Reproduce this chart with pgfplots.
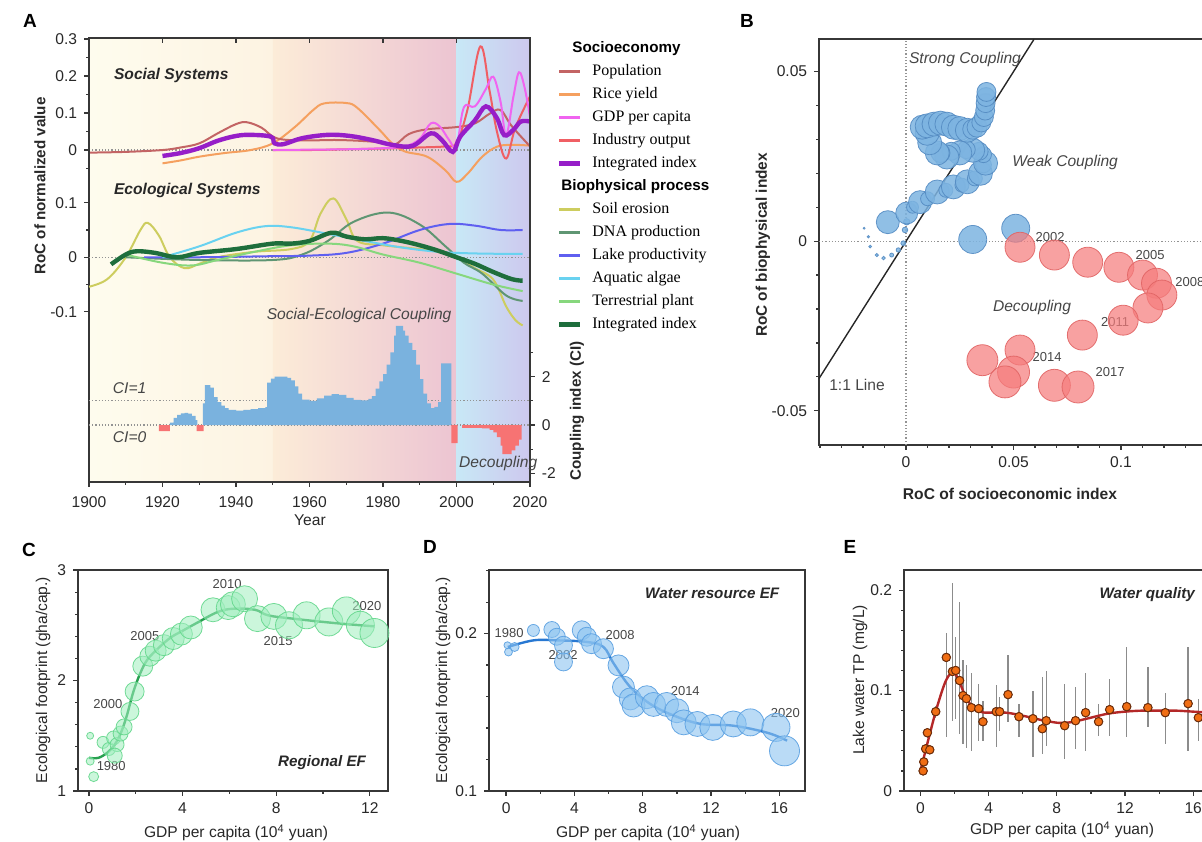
\documentclass[border=0pt]{standalone}
\usepackage{pgfplots}
\usepackage{pgfplotstable}
\pgfplotsset{compat=1.18}
\usepackage{fontspec}
\setmainfont{Liberation Sans}
\newfontfamily\legfont{Liberation Serif}
\newfontfamily\hdfont{Liberation Sans}
\definecolor{axc}{RGB}{55,55,55}
\definecolor{txt}{RGB}{40,40,40}
\definecolor{ann}{RGB}{70,70,70}
\definecolor{pop}{RGB}{195,100,100}
\definecolor{rice}{RGB}{245,160,95}
\definecolor{gdp}{RGB}{240,100,240}
\definecolor{ind}{RGB}{240,95,100}
\definecolor{soc}{RGB}{150,30,200}
\definecolor{soil}{RGB}{205,205,95}
\definecolor{dna}{RGB}{95,150,115}
\definecolor{lake}{RGB}{95,95,240}
\definecolor{alg}{RGB}{105,210,240}
\definecolor{ter}{RGB}{135,215,125}
\definecolor{eco}{RGB}{30,110,60}
\definecolor{cib}{RGB}{122,178,222}
\definecolor{cir}{RGB}{247,115,115}
\definecolor{bgA}{RGB}{254,252,238}
\definecolor{bgB}{RGB}{253,243,226}
\definecolor{bgC}{RGB}{252,236,216}
\definecolor{bgD}{RGB}{249,216,206}
\definecolor{bgE}{RGB}{236,196,210}
\definecolor{bgF}{RGB}{200,232,246}
\definecolor{bgG}{RGB}{205,200,238}
\definecolor{bbf}{RGB}{125,180,225}
\definecolor{bbd}{RGB}{85,140,195}
\definecolor{brf}{RGB}{245,125,125}
\definecolor{brd}{RGB}{225,100,100}
\definecolor{cgf}{RGB}{160,238,190}
\definecolor{cgd}{RGB}{100,215,140}
\definecolor{cgl}{RGB}{40,160,80}
\definecolor{dbf}{RGB}{140,195,240}
\definecolor{dbd}{RGB}{90,160,225}
\definecolor{dbl}{RGB}{40,120,210}
\definecolor{eof}{RGB}{240,110,20}
\definecolor{eod}{RGB}{110,45,10}
\definecolor{erl}{RGB}{180,40,40}
\definecolor{errc}{RGB}{140,140,140}
\newcommand{\hd}[2]{\hspace*{-#2pt}{\hdfont\bfseries\fontsize{7.6}{9}\selectfont #1}}

\pgfplotstableread{
x y r
0.05 1.50 3.5
0.05 1.27 4
0.2 1.13 5
0.6 1.44 6
0.85 1.38 6.5
1.05 1.48 7
1.2 1.42 7
1.1 1.32 7.5
1.35 1.52 7.5
1.5 1.58 8
1.75 1.72 9
1.95 1.90 9.5
2.3 2.13 10
2.6 2.22 10
2.85 2.27 10.5
3.2 2.32 10.5
3.6 2.38 11
3.95 2.42 11
4.35 2.48 11.5
5.3 2.64 12
5.95 2.66 12
6.15 2.69 12.5
6.65 2.74 13
7.2 2.56 13
7.9 2.58 13
8.55 2.50 13.5
9.3 2.59 13.5
10.25 2.53 14
11.0 2.63 14
11.6 2.50 14
12.2 2.43 14.5
}\Cdata

\pgfplotstableread{
x y r
0.08 0.1926 3.5
0.14 0.1883 4
0.5 0.1915 4.5
1.6 0.2020 6
2.68 0.2026 8
2.97 0.1980 8.5
3.36 0.1926 9
3.36 0.1820 9
4.43 0.2021 9.5
4.73 0.1980 9.5
5.0 0.1936 10
5.7 0.1904 10
6.58 0.1798 10.5
6.87 0.1660 11
7.27 0.1585 11
7.46 0.1543 11.5
8.24 0.1596 11.5
8.63 0.1550 12
9.4 0.1550 12
10.0 0.1510 12
10.4 0.1436 12.5
11.2 0.1426 12.5
12.1 0.1404 13
13.3 0.1426 13
14.3 0.1436 13.5
15.8 0.1404 14
16.3 0.1255 15
}\Ddata

\pgfplotstableread{
x y t b
0.16 0.020 0.023 0.017
0.20 0.029 0.033 0.025
0.31 0.042 0.047 0.037
0.55 0.041 0.045 0.037
0.41 0.058 0.063 0.053
0.90 0.079 0.085 0.073
1.52 0.133 0.157 0.054
1.88 0.119 0.207 0.070
2.07 0.120 0.153 0.072
2.30 0.110 0.188 0.057
2.50 0.095 0.130 0.047
2.70 0.092 0.125 0.043
2.99 0.083 0.117 0.040
3.42 0.082 0.107 0.050
3.67 0.069 0.090 0.050
4.45 0.079 0.106 0.044
4.65 0.079 0.094 0.060
5.14 0.096 0.135 0.069
5.78 0.074 0.087 0.054
6.60 0.072 0.100 0.034
7.15 0.062 0.113 0.037
7.38 0.070 0.119 0.045
8.46 0.065 0.107 0.032
9.10 0.070 0.104 0.042
9.69 0.078 0.117 0.040
10.45 0.069 0.087 0.055
11.10 0.081 0.112 0.055
12.10 0.084 0.143 0.054
13.34 0.083 0.123 0.064
14.36 0.078 0.098 0.047
15.70 0.087 0.143 0.040
16.30 0.073 0.092 0.050
}\Edata

\pgfplotstableread{
x y r
-0.0195 0.0038 1.0
-0.0175 0.0013 1.2
-0.0167 -0.0016 1.4
-0.0136 -0.0041 1.6
-0.0105 -0.0050 1.8
-0.0067 -0.0041 2.0
-0.0036 -0.0026 2.2
-0.0013 -0.0006 2.4
-0.0005 0.0033 2.8
0.0003 0.0057 3.2
-0.0085 0.0056 11.5
0.0003 0.0083 11
0.0030 0.0100 6
0.0065 0.0115 11.5
0.0100 0.0125 7
0.0145 0.0145 12
0.0185 0.0150 7
0.0220 0.0160 12
0.0260 0.0165 7
0.0285 0.0175 12
0.0320 0.0185 7.5
0.0346 0.0200 12
0.0360 0.0225 8
0.0370 0.0230 12
0.0360 0.0255 8
0.0340 0.0265 9
0.0310 0.0268 12
0.0280 0.0270 9
0.0250 0.0260 12
0.0210 0.0265 9
0.0190 0.0248 12
0.0160 0.0260 9.5
0.0145 0.0260 12
0.0110 0.0290 12
0.0098 0.0318 12
0.0075 0.0336 12
0.0098 0.0340 12
0.0130 0.0345 12
0.0160 0.0348 12
0.0190 0.0345 12
0.0220 0.0336 12
0.0250 0.0332 12
0.0285 0.0327 12
0.0310 0.0330 10
0.0330 0.0336 10
0.0350 0.0350 9.5
0.0362 0.0366 9.5
0.0368 0.0385 9.5
0.0370 0.0407 9.5
0.0372 0.0425 9.5
0.0374 0.0440 9.5
0.0310 0.0005 14
0.0510 0.0038 14
}\Bblue

\pgfplotstableread{
x y r
0.053 -0.0018 15
0.069 -0.0041 15
0.0845 -0.0062 15
0.099 -0.0077 15
0.110 -0.0100 15
0.1165 -0.0124 15
0.119 -0.0159 15
0.1125 -0.0197 15
0.101 -0.0233 15
0.082 -0.0277 15
0.053 -0.0321 15
0.0355 -0.0351 15.5
0.050 -0.0386 16
0.046 -0.0415 16
0.069 -0.0425 16
0.080 -0.0430 16
}\Bred

\pgfplotsset{
 base/.style={
  scale only axis, clip=false,
  scaled x ticks=false, scaled y ticks=false,
  axis line style={draw=axc, line width=0.8pt},
  tick style={draw=axc, line width=0.6pt},
  tick align=outside, tick pos=left,
  major tick length=2.4pt, minor tick length=1.4pt,
  tick label style={font=\fontsize{7.8}{9}\selectfont, text=txt},
  /pgf/number format/assume math mode=true,
  /pgf/number format/1000 sep={},
 },
 thinl/.style={line width=1pt, smooth, tension=0.6, forget plot},
 thickl/.style={line width=2.2pt, smooth, tension=0.6, forget plot},
 zl/.style={densely dotted, gray!85, line width=0.6pt, forget plot},
 bub/.style n args={3}{only marks, mark=*, scatter, forget plot,
   scatter/use mapped color={draw=#1, fill=#2, fill opacity=#3, draw opacity=0.9},
   visualization depends on={\thisrow{r}*0.5 \as \rr},
   scatter/@pre marker code/.append style={/tikz/mark size=\rr}},
}
\tikzset{
 annot/.style={font=\fontsize{7.8}{9}\selectfont\itshape, text=ann},
 yrl/.style={font=\fontsize{6.5}{8}\selectfont, text=ann},
}

\begin{document}
\begin{tikzpicture}
\useasboundingbox (0,0) rectangle (601pt,420.5pt);

% ---------------- Panel A: social axis ----------------
\begin{axis}[base, at={(44.5pt,179.5pt)}, anchor=south west, width=220.5pt, height=222pt,
 xmin=1900, xmax=2020, ymin=-0.897, ymax=0.3027, axis on top,
 xtick={1900,1920,...,2020}, minor xtick={1910,1930,...,2010},
 xticklabel style={yshift=-1.6pt},
 ytick={0,0.1,0.2,0.3}, yticklabels={0,0.1,0.2,0.3}, minor ytick={-0.05,0.05,0.15,0.25},
 legend style={at={(rel axis cs:1.0612,0.993)}, anchor=north west, draw=none, fill=none,
   inner sep=0pt, outer sep=0pt, row sep=4.1pt, column sep=5pt,
   font=\legfont\fontsize{8}{9.5}\selectfont,
   nodes={inner sep=0pt, text height=5.8pt, text depth=1.6pt}},
 legend cell align=left,
 legend image code/.code={\draw[#1] (0pt,0pt) -- (10.5pt,0pt);},
]
\fill[left color=bgA, right color=bgB] (axis cs:1900,-0.897) rectangle (axis cs:1950,0.3027);
\fill[left color=bgC, middle color=bgD, right color=bgE] (axis cs:1950,-0.897) rectangle (axis cs:2000,0.3027);
\fill[left color=bgF, right color=bgG] (axis cs:2000,-0.897) rectangle (axis cs:2020,0.3027);
\addplot[zl] coordinates {(1900,0)(2020,0)};
\addplot[rice, thinl] coordinates {(1920,-0.036)(1925,-0.028)(1930,-0.018)(1937,-0.008)(1944,0.0)(1950,0.018)(1956,0.062)(1961,0.108)(1964,0.126)(1970,0.127)(1973,0.114)(1979,0.055)(1982.5,0.018)(1986,-0.004)(1992,-0.018)(1997,-0.055)(2000,-0.086)(2003,-0.064)(2007,-0.018)(2011,0.009)(2015,0.014)(2020,0.012)};
\addplot[pop, thinl] coordinates {(1900,-0.007)(1910,-0.005)(1920,0.0)(1925,0.007)(1930,0.018)(1935,0.045)(1940,0.07)(1943,0.075)(1947,0.06)(1951,0.032)(1958,0.026)(1968,0.027)(1978,0.022)(1983,0.014)(1987,0.043)(1992,0.056)(2000,0.062)(2005,0.072)(2009,0.098)(2012,0.108)(2015,0.065)(2020,0.01)};
\addplot[ind, thinl] coordinates {(1950,0.0)(1960,0.0)(1970,0.002)(1980,0.004)(1990,0.007)(1997,0.01)(2000,0.02)(2003,0.11)(2006.5,0.28)(2009,0.16)(2011,0.05)(2013.5,-0.023)(2016,0.06)(2020,0.145)};
\addplot[gdp, thinl] coordinates {(1950,0.0)(1960,0.001)(1970,0.002)(1980,0.005)(1986,0.01)(1990,0.03)(1993,0.072)(1995.5,0.063)(1998,0.027)(2000,0.01)(2002,0.115)(2005,0.118)(2008,0.165)(2010,0.198)(2012,0.13)(2013.5,0.04)(2015.5,0.145)(2017,0.21)(2018.5,0.17)(2020,0.09)};
\addplot[soc, thickl] coordinates {(1920,-0.016)(1925,-0.008)(1930,0.005)(1935,0.025)(1940,0.038)(1944,0.041)(1949.5,0.036)(1950.5,0.018)(1953,0.016)(1958,0.032)(1965,0.041)(1971,0.038)(1977,0.027)(1982.5,0.014)(1988,0.011)(1993,0.045)(1996,0.027)(1999,-0.005)(2001,0.036)(2005,0.08)(2008,0.118)(2011,0.086)(2013,0.04)(2015.5,0.055)(2017.5,0.077)(2020,0.077)};
\node[font=\fontsize{7.8}{9}\selectfont\bfseries\itshape, text=txt, anchor=west] at (axis cs:1904.9,0.2027) {Social Systems};
\node[font=\fontsize{7.8}{9}\selectfont\bfseries\itshape, text=txt, anchor=west] at (axis cs:1904.9,-0.108) {Ecological Systems};
\addlegendimage{empty legend}\addlegendentry{\hd{Socioeconomy}{10}}
\addlegendimage{pop, line width=1.3pt}\addlegendentry{Population}
\addlegendimage{rice, line width=1.3pt}\addlegendentry{Rice yield}
\addlegendimage{gdp, line width=1.3pt}\addlegendentry{GDP per capita}
\addlegendimage{ind, line width=1.3pt}\addlegendentry{Industry output}
\addlegendimage{soc, line width=2.2pt}\addlegendentry{Integrated index}
\addlegendimage{empty legend}\addlegendentry{\hd{Biophysical process}{15.5}}
\addlegendimage{soil, line width=1.3pt}\addlegendentry{Soil erosion}
\addlegendimage{dna, line width=1.3pt}\addlegendentry{DNA production}
\addlegendimage{lake, line width=1.3pt}\addlegendentry{Lake productivity}
\addlegendimage{alg, line width=1.3pt}\addlegendentry{Aquatic algae}
\addlegendimage{ter, line width=1.3pt}\addlegendentry{Terrestrial plant}
\addlegendimage{eco, line width=2.2pt}\addlegendentry{Integrated index}
\end{axis}

% ---------------- Panel A: ecological axis ----------------
\begin{axis}[base, at={(44.5pt,179.5pt)}, anchor=south west, width=220.5pt, height=222pt,
 xmin=1900, xmax=2020, ymin=-0.412, ymax=0.402,
 axis x line=none, axis y line*=left, ytick pos=left,
 ytick={-0.1,0,0.1}, yticklabels={-0.1,0,0.1}, minor ytick={-0.05,0.05}]
\addplot[zl] coordinates {(1900,0)(2020,0)};
\addplot[soil, thinl] coordinates {(1900,-0.054)(1905,-0.04)(1910,0.0)(1914,0.05)(1916,0.063)(1919,0.04)(1922,0.0)(1926,-0.02)(1930,-0.012)(1935,0.0)(1945,0.01)(1955,0.015)(1960,0.03)(1963,0.08)(1966.5,0.108)(1970,0.07)(1973,0.03)(1980,0.022)(1990,0.015)(1995,0.01)(2000,0.0)(2005,-0.02)(2010,-0.041)(2013.5,-0.09)(2016,-0.115)(2018,-0.125)};
\addplot[dna, thinl] coordinates {(1910,0.0)(1930,-0.005)(1950,-0.005)(1958,0.005)(1965,0.03)(1972,0.065)(1981.5,0.082)(1990,0.06)(1997,0.02)(2002,-0.01)(2007,-0.03)(2013.5,-0.07)(2018,-0.08)};
\addplot[lake, thinl] coordinates {(1915,0.0)(1930,0.0)(1950,0.002)(1960,0.003)(1970,0.008)(1980,0.025)(1990,0.05)(1998,0.061)(2005,0.058)(2012,0.05)(2018,0.05)};
\addplot[alg, thinl] coordinates {(1920,0.0)(1930,0.02)(1940,0.045)(1948,0.057)(1955,0.055)(1965,0.043)(1975,0.03)(1985,0.018)(1995,0.01)(2005,0.007)(2018,0.006)};
\addplot[ter, thinl] coordinates {(1910,0.005)(1920,-0.01)(1928,-0.015)(1935,-0.005)(1945,0.01)(1955,0.022)(1965,0.025)(1972,0.02)(1980,0.005)(1990,-0.01)(2000,-0.03)(2010,-0.05)(2018,-0.062)};
\addplot[eco, thickl] coordinates {(1906,-0.013)(1910,0.005)(1913,0.011)(1918,0.008)(1924,0.0)(1930,0.008)(1940,0.015)(1950,0.025)(1955,0.025)(1960,0.03)(1966,0.045)(1970,0.038)(1975,0.033)(1980,0.035)(1985,0.03)(1990,0.022)(1995,0.012)(2000,0.0)(2005,-0.012)(2010,-0.027)(2015,-0.04)(2018,-0.043)};
\end{axis}

% ---------------- Panel A: coupling index axis ----------------
\begin{axis}[base, at={(44.5pt,179.5pt)}, anchor=south west, width=220.5pt, height=222pt,
 xmin=1900, xmax=2020, ymin=-2.355, ymax=16,
 axis x line=none, axis y line*=right, ytick pos=right,
 ytick={-2,0,2}, yticklabels={-2,0,2}, minor ytick={-1,1,3}]
\addplot[zl] coordinates {(1900,0)(2020,0)};
\addplot[zl] coordinates {(1900,1)(2020,1)};
\addplot[const plot, fill=cib, draw=none, forget plot] coordinates {(1922,0.1)(1923,0.3)(1924,0.42)(1925,0.48)(1926,0.5)(1927,0.47)(1928,0.38)(1929,0.2)(1929.5,0)(1931,0.9)(1931.5,1.65)(1933,1.55)(1934,1.15)(1935,0.95)(1936,0.8)(1937,0.7)(1938,0.63)(1940,0.6)(1942,0.63)(1944,0.66)(1946,0.7)(1948,0.74)(1948.5,1.75)(1949.5,1.92)(1950.5,2.0)(1953,2.0)(1954,1.95)(1955,1.85)(1956,1.6)(1957,1.3)(1958,1.05)(1960,1.0)(1962,1.1)(1964,1.22)(1966,1.28)(1968,1.25)(1970,1.12)(1972,1.04)(1974,1.02)(1976,1.08)(1977,1.2)(1978,1.5)(1979,1.8)(1980,2.1)(1981,2.5)(1982,3.0)(1983,3.7)(1983.5,4.1)(1985.5,3.9)(1986,3.7)(1987,3.4)(1988,3.1)(1989,2.5)(1990,1.9)(1991,1.3)(1992,0.9)(1993,0.7)(1994,0.75)(1995,0.95)(1995.8,2.55)(1998.6,0)} \closedcycle;
\addplot[const plot, fill=cir, draw=none, forget plot] coordinates {(1919,-0.25)(1922,-0.25)} \closedcycle;
\addplot[const plot, fill=cir, draw=none, forget plot] coordinates {(1929.3,-0.25)(1931.2,-0.25)} \closedcycle;
\addplot[const plot, fill=cir, draw=none, forget plot] coordinates {(1998.6,-0.75)(2000.3,-0.75)} \closedcycle;
\addplot[const plot, fill=cir, draw=none, forget plot] coordinates {(2001.5,-0.12)(2004,-0.12)(2007,-0.14)(2009,-0.2)(2010,-0.3)(2011,-0.5)(2012,-0.85)(2012.5,-1.2)(2015,-1.05)(2016,-0.85)(2017,-0.6)(2017.7,-0.6)} \closedcycle;
\node[annot, anchor=center] at (axis cs:1973.5,4.55) {Social-Ecological Coupling};
\node[annot, anchor=west] at (axis cs:1904.6,1.53) {CI=1};
\node[annot, anchor=west] at (axis cs:1904.6,-0.5) {CI=0};
\node[annot, anchor=west] at (axis cs:1998.8,-1.57) {Decoupling};
\end{axis}

% ---------------- Panel A: top inside ticks ----------------
\begin{axis}[base, at={(44.5pt,179.5pt)}, anchor=south west, width=220.5pt, height=222pt,
 xmin=1900, xmax=2020, ymin=0, ymax=1,
 axis x line*=top, axis y line=none, xtick pos=right, tick align=inside,
 xtick={1920,1940,...,2000}, xticklabels={}, minor xtick={}]
\end{axis}

% ---------------- Panel B ----------------
\begin{axis}[base, at={(409.5pt,198pt)}, anchor=south west, width=204.75pt, height=203pt,
 xmin=-0.0405, xmax=0.15, ymin=-0.0601, ymax=0.0596,
 xtick={0,0.05,0.1}, xticklabels={0,0.05,0.1},
 minor xtick={-0.04,-0.03,-0.02,-0.01,0.01,0.02,0.03,0.04,0.06,0.07,0.08,0.09,0.11,0.12,0.13,0.14},
 ytick={-0.05,0,0.05}, yticklabels={-0.05,0,0.05},
 minor ytick={-0.04,-0.03,-0.02,-0.01,0.01,0.02,0.03,0.04}]
\addplot[zl] coordinates {(0,-0.0601)(0,0.0596)};
\addplot[zl] coordinates {(-0.0405,0)(0.15,0)};
\addplot[black!85, line width=0.7pt, forget plot] coordinates {(-0.0405,-0.0405)(0.0595,0.0595)};
\addplot[bub={bbd}{bbf}{0.85}] table[x=x,y=y] {\Bblue};
\addplot[bub={brd}{brf}{0.72}] table[x=x,y=y] {\Bred};
\node[annot] at (axis cs:0.0274,0.0535) {Strong Coupling};
\node[annot] at (axis cs:0.074,0.0231) {Weak Coupling};
\node[annot] at (axis cs:0.0586,-0.0195) {Decoupling};
\node[font=\fontsize{7.8}{9}\selectfont, text=ann] at (axis cs:-0.0228,-0.0424) {1:1 Line};
\node[yrl] at (axis cs:0.067,0.0012) {2002};
\node[yrl] at (axis cs:0.1135,-0.0041) {2005};
\node[yrl] at (axis cs:0.132,-0.012) {2008};
\node[yrl] at (axis cs:0.0972,-0.0238) {2011};
\node[yrl] at (axis cs:0.0656,-0.0342) {2014};
\node[yrl] at (axis cs:0.0949,-0.0386) {2017};
\end{axis}

% ---------------- Panel C ----------------
\begin{axis}[base, at={(39pt,25pt)}, anchor=south west, width=155pt, height=110.5pt,
 xmin=-0.47, xmax=12.78, ymin=1, ymax=3,
 xtick={0,4,8,12}, minor xtick={2,6,10},
 ytick={1,2,3}, minor ytick={1.2,1.4,1.6,1.8,2.2,2.4,2.6,2.8}]
\addplot[bub={cgd}{cgf}{0.55}] table[x=x,y=y] {\Cdata};
\addplot[cgl, line width=1.2pt, smooth, tension=0.6, forget plot] coordinates {(0,1.30)(0.4,1.30)(0.8,1.35)(1.1,1.42)(1.35,1.52)(1.6,1.67)(1.9,1.9)(2.2,2.07)(2.5,2.19)(3,2.3)(3.5,2.39)(4,2.45)(4.6,2.52)(5.5,2.62)(6.2,2.65)(7.1,2.64)(7.65,2.59)(8.7,2.56)(10.5,2.52)(12.2,2.49)};
\node[yrl] at (axis cs:0.95,1.225) {1980};
\node[yrl] at (axis cs:0.81,1.79) {2000};
\node[yrl] at (axis cs:2.39,2.405) {2005};
\node[yrl] at (axis cs:5.9,2.874) {2010};
\node[yrl] at (axis cs:8.08,2.36) {2015};
\node[yrl] at (axis cs:11.88,2.676) {2020};
\node[font=\fontsize{7.6}{9}\selectfont\bfseries\itshape, text=txt] at (axis cs:9.96,1.26) {Regional EF};
\end{axis}

% ---------------- Panel D ----------------
\begin{axis}[base, at={(244.5pt,25pt)}, anchor=south west, width=158pt, height=110.5pt,
 xmin=-1.0, xmax=17.5, ymin=0.1, ymax=0.2404,
 xtick={0,4,8,12,16}, minor xtick={2,6,10,14},
 ytick={0.1,0.2}, yticklabels={0.1,0.2}, minor ytick={0.12,0.14,0.16,0.18,0.22,0.24}]
\addplot[bub={dbd}{dbf}{0.6}] table[x=x,y=y] {\Ddata};
\addplot[dbl, line width=1.2pt, smooth, tension=0.6, forget plot] coordinates {(0.1,0.1915)(1.6,0.1957)(2.97,0.1957)(4.73,0.1947)(5.7,0.1915)(6.3,0.181)(7.27,0.166)(8.44,0.1553)(9.8,0.148)(11.4,0.1426)(13.3,0.1415)(15.3,0.137)(16.45,0.132)};
\node[yrl] at (axis cs:0.18,0.2002) {1980};
\node[yrl] at (axis cs:3.34,0.1862) {2002};
\node[yrl] at (axis cs:6.68,0.1989) {2008};
\node[yrl] at (axis cs:10.49,0.1638) {2014};
\node[yrl] at (axis cs:16.35,0.1498) {2020};
\node[font=\fontsize{7.6}{9}\selectfont\bfseries\itshape, text=txt] at (axis cs:12.07,0.2257) {Water resource EF};
\end{axis}

% ---------------- Panel E ----------------
\begin{axis}[base, at={(452pt,25pt)}, anchor=south west, width=157.4pt, height=110.5pt,
 xmin=-0.96, xmax=17.5, ymin=0, ymax=0.22,
 xtick={0,4,8,12,16}, minor xtick={2,6,10,14},
 ytick={0,0.1,0.2}, yticklabels={0,0.1,0.2}, minor ytick={0.02,0.04,0.06,0.08,0.12,0.14,0.16,0.18}]
\addplot[only marks, mark=none, forget plot, error bars/.cd, y dir=both, y explicit, error mark=none,
  error bar style={draw=errc, solid, line width=0.7pt}]
  table[x=x, y=y, y error plus expr=\thisrow{t}-\thisrow{y}, y error minus expr=\thisrow{y}-\thisrow{b}] {\Edata};
\addplot[erl, line width=1.2pt, smooth, tension=0.6, forget plot] coordinates {(0,0.02)(0.3,0.04)(0.6,0.06)(1,0.085)(1.5,0.11)(1.9,0.118)(2.2,0.112)(2.6,0.096)(3,0.085)(3.5,0.079)(4,0.078)(5,0.078)(6,0.075)(7,0.071)(8,0.068)(8.5,0.068)(9,0.069)(10,0.073)(11,0.077)(12,0.079)(13,0.08)(14,0.08)(15,0.08)(16,0.079)(17,0.078)};
\addplot[only marks, mark=*, mark size=2.1pt, draw=eod, fill=eof, line width=0.5pt, forget plot] table[x=x,y=y] {\Edata};
\node[font=\fontsize{7.6}{9}\selectfont\bfseries\itshape, text=txt] at (axis cs:13.3,0.1951) {Water quality};
\end{axis}

% ---------------- global labels ----------------
\node[font=\fontsize{9.5}{11}\selectfont\bfseries] at (15pt,410pt) {A};
\node[font=\fontsize{9.5}{11}\selectfont\bfseries] at (373.5pt,410pt) {B};
\node[font=\fontsize{9.5}{11}\selectfont\bfseries] at (14.5pt,145.5pt) {C};
\node[font=\fontsize{9.5}{11}\selectfont\bfseries] at (215pt,147pt) {D};
\node[font=\fontsize{9.5}{11}\selectfont\bfseries] at (425pt,147pt) {E};
\node[font=\fontsize{7.6}{9}\selectfont\bfseries, text=txt, rotate=90] at (20pt,327.5pt) {RoC of normalized value};
\node[font=\fontsize{7.6}{9}\selectfont\bfseries, text=txt, rotate=90] at (288.5pt,215pt) {Coupling index (CI)};
\node[font=\fontsize{7.8}{9}\selectfont, text=txt] at (155pt,160.5pt) {Year};
\node[font=\fontsize{7.7}{9}\selectfont\bfseries, text=txt, rotate=90] at (381.5pt,298pt) {RoC of biophysical index};
\node[font=\fontsize{7.8}{9}\selectfont\bfseries, text=txt] at (505pt,173.5pt) {RoC of socioeconomic index};
\node[font=\fontsize{7.8}{9}\selectfont, text=txt, rotate=90] at (21.5pt,80.5pt) {Ecological footprint (gha/cap.)};
\node[font=\fontsize{7.8}{9}\selectfont, text=txt] at (118pt,4pt) {GDP per capita (10\textsuperscript{4} yuan)};
\node[font=\fontsize{7.8}{9}\selectfont, text=txt, rotate=90] at (221.5pt,80.5pt) {Ecological footprint (gha/cap.)};
\node[font=\fontsize{7.8}{9}\selectfont, text=txt] at (324pt,4pt) {GDP per capita (10\textsuperscript{4} yuan)};
\node[font=\fontsize{7.8}{9}\selectfont, text=txt, rotate=90] at (430pt,80.5pt) {Lake water TP (mg/L)};
\node[font=\fontsize{7.8}{9}\selectfont, text=txt] at (531pt,5.5pt) {GDP per capita (10\textsuperscript{4} yuan)};
\end{tikzpicture}
\end{document}
